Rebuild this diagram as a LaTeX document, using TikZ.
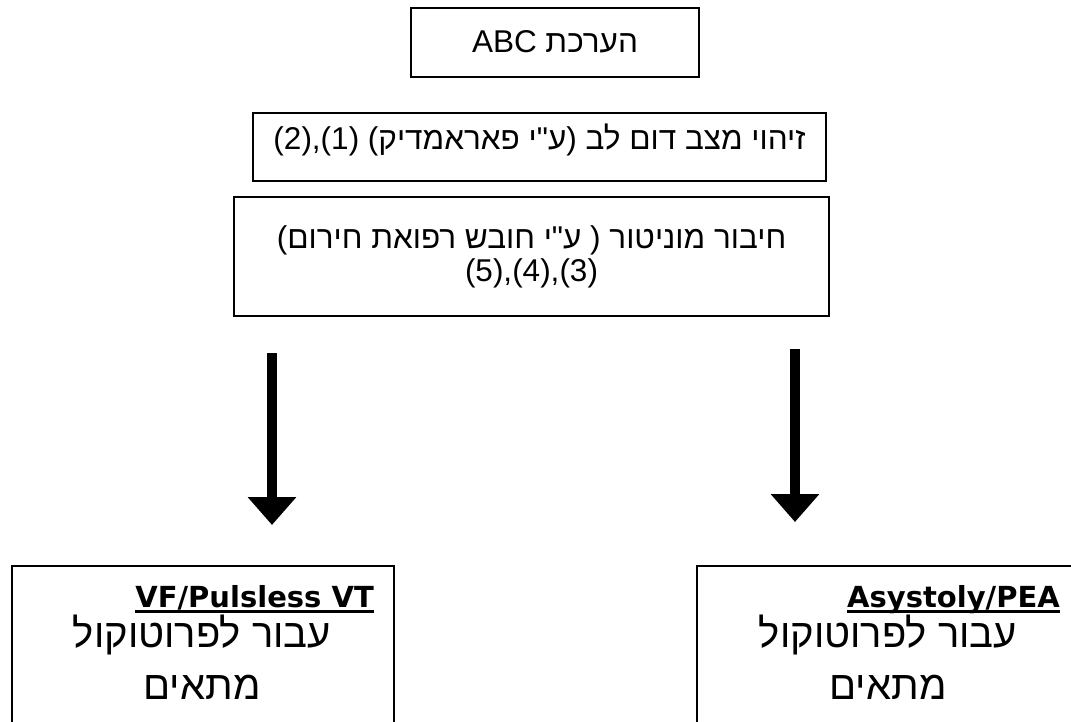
\documentclass[tikz,border=0pt]{standalone}
\usepackage{fontspec}
\setmainfont{Liberation Sans}
\newfontfamily\hebfont[Script=Hebrew]{Liberation Sans}
\newfontfamily\latbold{DejaVu Sans}
\TeXXeTstate=1
\usetikzlibrary{arrows.meta}
\tikzset{
  boxstyle/.style={draw=black, line width=1.8pt, fill=white, inner sep=0pt},
  toptext/.style={font=\hebfont\fontsize{31.5}{36}\selectfont, inner sep=0pt},
  bigtext/.style={font=\hebfont\fontsize{40}{50}\selectfont, inner sep=0pt},
  boldtext/.style={font=\latbold\bfseries\fontsize{29}{32}\selectfont, inner sep=0pt},
  bigarrow/.style={line width=10pt, -{Triangle[width=47pt,length=28pt]}}
}
\begin{document}
\begin{tikzpicture}[x=1pt,y=-1pt]
\clip (0,0) rectangle (1071,722);
\fill[white] (0,0) rectangle (1071,722);
% boxes
\node[boxstyle, minimum width=288pt, minimum height=69pt] (abc) at (555,42.5) {};
\node[toptext, anchor=base] (abct) at (555,53) {\beginR הערכת ABC\endR};
\node[boxstyle, minimum width=573pt, minimum height=68pt] (dom) at (539.5,147) {};
\node[toptext, anchor=base] (domt) at (539.5,150) {\beginR זיהוי מצב דום לב (ע"י פאראמדיק) (1),(2)\endR};
\node[boxstyle, minimum width=595pt, minimum height=119pt] (mon) at (531.5,256.5) {};
\node[toptext, anchor=base] (mont1) at (531.5,249) {\beginR חיבור מוניטור ( ע"י חובש רפואת חירום)\endR};
\node[toptext, anchor=base] (mont2) at (531.5,281) {\beginR (3),(4),(5)\endR};
% arrows
\coordinate (la1) at (272,353);
\coordinate (la2) at (272,525);
\coordinate (ra1) at (795,349);
\coordinate (ra2) at (795,522);
\draw[bigarrow] (la1) -- (la2);
\draw[bigarrow] (ra1) -- (ra2);
% bottom boxes
\node[boxstyle, minimum width=382pt, minimum height=200pt, anchor=north west] (vf) at (11,565) {};
\node[boldtext, anchor=base east] (vft) at (374,607) {VF/Pulsless VT};
\draw[line width=2.6pt] ([yshift=-4.5pt]vft.base west) -- ([yshift=-4.5pt]vft.base east);
\node[bigtext, anchor=base] (vfh1) at (202,647) {\beginR עבור לפרוטוקול\endR};
\node[bigtext, anchor=base] (vfh2) at (202,699) {\beginR מתאים\endR};
\node[boxstyle, minimum width=384pt, minimum height=200pt, anchor=north west] (as) at (696,565) {};
\node[boldtext, anchor=base east] (ast) at (1060,607) {Asystoly/PEA};
\draw[line width=2.6pt] ([yshift=-4.5pt]ast.base west) -- ([yshift=-4.5pt]ast.base east);
\node[bigtext, anchor=base] (ash1) at (888,647) {\beginR עבור לפרוטוקול\endR};
\node[bigtext, anchor=base] (ash2) at (888,699) {\beginR מתאים\endR};
\end{tikzpicture}
\end{document}
